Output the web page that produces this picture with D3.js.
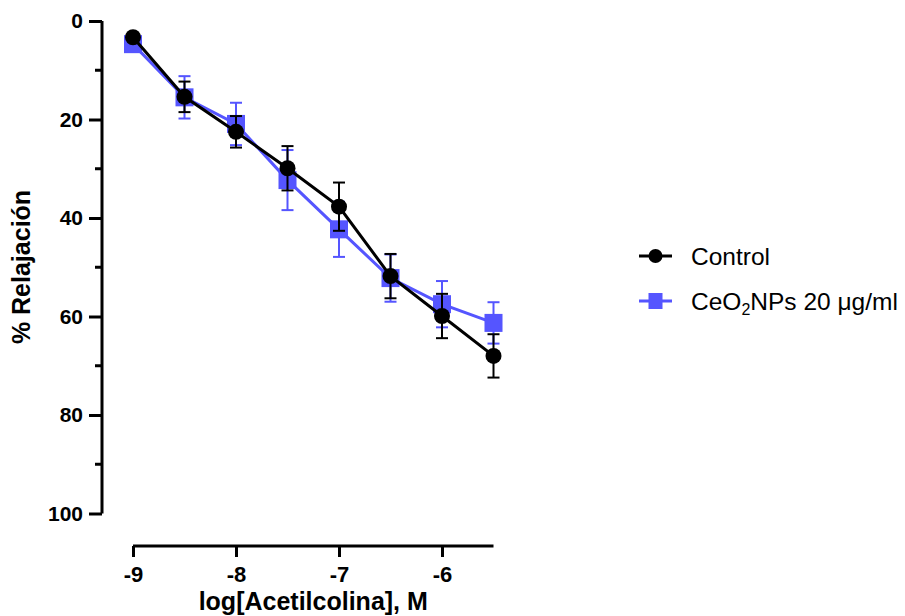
<!DOCTYPE html>
<html>
<head>
<meta charset="utf-8">
<script src="https://cdn.jsdelivr.net/npm/d3@7"></script>
<style>
  body { margin: 0; background: #fff; }
  svg { display: block; font-family: Arial, "Liberation Sans", sans-serif; }
</style>
</head>
<body>
<div id="chart"></div>
<script>
// log[ACh] doses
const doses = [-9, -8.5, -8, -7.5, -7, -6.5, -6, -5.5];
const controlMean = [3.3, 15.4, 22.5, 29.9, 37.7, 51.8, 59.9, 68.0];
const controlErr = [0, 3.1, 3.2, 4.5, 4.9, 4.5, 4.5, 4.4];
const ceoMean = [4.7, 15.5, 20.9, 32.3, 42.3, 52.2, 57.5, 61.3];
const ceoErr = [0, 4.3, 4.3, 6.1, 5.6, 4.8, 4.7, 4.2];
const xTicks = [-9, -8, -7, -6];
const yTicks = [0, 20, 40, 60, 80, 100];
const yMinor = [10, 30, 50, 70, 90];

const blue = "#5555ff";

const svg = d3.select("#chart")
  .append("svg")
  .attr("width", 905)
  .attr("height", 616);

// plot area
const x = d3.scaleLinear().domain([-9, -5.5]).range([133, 493.5]);
const y = d3.scaleLinear().domain([0, 100]).range([21, 513.5]);

// y axis
const yAxis = svg.append("g")
  .attr("transform", "translate(102,0)")
  .call(d3.axisLeft(y).tickValues(yTicks).tickSize(13).tickPadding(6));
yAxis.select(".domain").attr("d", `M0,${y(0)}V${y(100)}`);
yAxis.append("g")
  .selectAll("line")
  .data(yMinor)
  .enter()
  .append("line")
  .attr("x1", -7)
  .attr("x2", 0)
  .attr("y1", (d) => y(d))
  .attr("y2", (d) => y(d));
yAxis.selectAll(".tick text").attr("font-size", 21);

// x axis
const xAxis = svg.append("g")
  .attr("transform", "translate(0,546)")
  .call(d3.axisBottom(x).tickValues(xTicks).tickSize(11).tickPadding(9).tickFormat((d) => String(d)));
xAxis.select(".domain").attr("d", `M${x(-9)},0H${x(-5.5)}`);
xAxis.selectAll(".tick text").attr("font-size", 22);

svg.selectAll(".domain, .tick line, g line")
  .attr("stroke", "#000")
  .attr("stroke-width", 3);
svg.selectAll(".tick text")
  .attr("font-weight", "bold")
  .attr("font-family", "Arial, 'Liberation Sans', sans-serif")
  .attr("fill", "#000");

// axis titles
svg.append("text")
  .attr("x", (x(-9) + x(-5.5)) / 2)
  .attr("y", 610)
  .attr("text-anchor", "middle")
  .attr("font-size", 25)
  .attr("font-weight", "bold")
  .text("log[Acetilcolina], M");

svg.append("text")
  .attr("transform", `translate(30,267) rotate(-90)`)
  .attr("text-anchor", "middle")
  .attr("font-size", 25)
  .attr("font-weight", "bold")
  .text("% Relajación");

const line = d3.line()
  .x((d) => x(d[0]))
  .y((d) => y(d[1]));

function drawSeries(means, errs, color, shape) {
  const pts = doses.map((d, i) => [d, means[i], errs[i]]);
  const g = svg.append("g");

  g.append("path")
    .datum(pts)
    .attr("d", line)
    .attr("fill", "none")
    .attr("stroke", color)
    .attr("stroke-width", 3);

  const eb = g.selectAll(".eb")
    .data(pts.filter((p) => p[2] > 0))
    .enter()
    .append("g")
    .attr("stroke", color)
    .attr("stroke-width", 2);
  eb.append("line")
    .attr("x1", (p) => x(p[0]))
    .attr("x2", (p) => x(p[0]))
    .attr("y1", (p) => y(p[1] - p[2]))
    .attr("y2", (p) => y(p[1] + p[2]));
  [-1, 1].forEach((s) => {
    eb.append("line")
      .attr("x1", (p) => x(p[0]) - 6)
      .attr("x2", (p) => x(p[0]) + 6)
      .attr("y1", (p) => y(p[1] + s * p[2]))
      .attr("y2", (p) => y(p[1] + s * p[2]));
  });

  if (shape === "circle") {
    g.selectAll("circle")
      .data(pts)
      .enter()
      .append("circle")
      .attr("cx", (p) => x(p[0]))
      .attr("cy", (p) => y(p[1]))
      .attr("r", 8)
      .attr("fill", color);
  } else {
    g.selectAll("rect")
      .data(pts)
      .enter()
      .append("rect")
      .attr("x", (p) => x(p[0]) - 9)
      .attr("y", (p) => y(p[1]) - 9)
      .attr("width", 18)
      .attr("height", 18)
      .attr("fill", color);
  }
}

drawSeries(ceoMean, ceoErr, blue, "square");
drawSeries(controlMean, controlErr, "#000", "circle");

// legend
const legend = svg.append("g").attr("transform", "translate(639,256)");
const legendItems = [
  { color: "#000", shape: "circle" },
  { color: blue, shape: "square" }
];
legendItems.forEach((item, i) => {
  const g = legend.append("g").attr("transform", `translate(0,${i * 45})`);
  g.append("line")
    .attr("x1", 0)
    .attr("x2", 33)
    .attr("stroke", item.color)
    .attr("stroke-width", 3);
  if (item.shape === "circle") {
    g.append("circle").attr("cx", 16.5).attr("r", 7).attr("fill", item.color);
  } else {
    g.append("rect").attr("x", 9.5).attr("y", -8).attr("width", 14).attr("height", 16).attr("fill", item.color);
  }
});

legend.append("text")
  .attr("x", 52)
  .attr("y", 9)
  .attr("font-size", 24.5)
  .text("Control");

const t2 = legend.append("text")
  .attr("x", 52)
  .attr("y", 54)
  .attr("font-size", 24.5);
t2.append("tspan").text("CeO");
t2.append("tspan").attr("font-size", 16).attr("dy", 5).text("2");
t2.append("tspan").attr("dy", -5).text("NPs 20 μg/ml");
</script>
</body>
</html>
